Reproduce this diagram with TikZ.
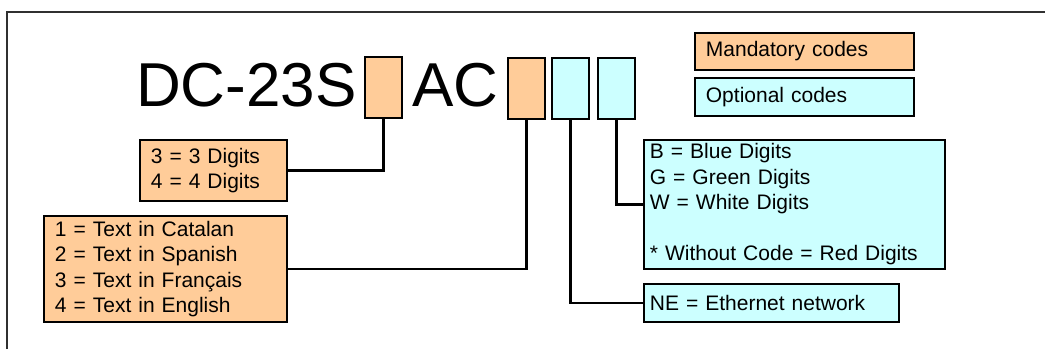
\documentclass[tikz,border=0pt]{standalone}
\usepackage{fontspec}
\setmainfont{Liberation Sans}
\usepackage{xcolor}
\definecolor{mandorange}{HTML}{FFCC99}
\definecolor{optcyan}{HTML}{CCFFFF}
\definecolor{framegray}{HTML}{303030}

\tikzset{
    codebox/.style={draw=black, line width=1.8pt, inner sep=0, anchor=north west, minimum width=37, minimum height=61},
    infobox/.style={draw=black, line width=1.8pt, anchor=north west, align=left, inner ysep=0pt, font=\fontsize{21}{25.5}\selectfont},
    link/.style={line width=2.4pt}
}

\begin{document}
\begin{tikzpicture}[x=1pt, y=-1pt]
    \useasboundingbox (0,0) rectangle (1045,349);
    \draw[line width=1.6pt, framegray] (7,349) -- (7,12) -- (1045,12);

    % model code
    \node[anchor=base west, inner sep=0, font=\fontsize{62}{62}\selectfont] (model) at (136,106) {DC-23S};
    \node[anchor=base west, inner sep=0, font=\fontsize{62}{62}\selectfont] (series) at (412,106) {AC};
    \node[codebox, fill=mandorange] (digitcode) at (364,56) {};
    \node[codebox, fill=mandorange] (langcode) at (507,57) {};
    \node[codebox, fill=optcyan] (netcode) at (551,57) {};
    \node[codebox, fill=optcyan] (colorcode) at (597,57) {};

    % legend
    \node[infobox, fill=mandorange, inner xsep=11pt, text width=197pt, minimum width=219, minimum height=37] (mandatory) at (694,32) {Mandatory codes};
    \node[infobox, fill=optcyan, inner xsep=11pt, text width=197pt, minimum width=219, minimum height=38] (optional) at (694,77) {Optional codes};

    % option boxes
    \node[infobox, fill=mandorange, inner xsep=11pt, text width=125pt, minimum width=147, minimum height=61] (digits) at (139,139) {3 = 3 Digits\\4 = 4 Digits};
    \node[infobox, fill=mandorange, inner xsep=11pt, text width=221pt, minimum width=243, minimum height=106] (lang) at (43,215) {1 = Text in Catalan\\2 = Text in Spanish\\3 = Text in Français\\4 = Text in English};
    \node[infobox, fill=optcyan, inner xsep=6pt, text width=289pt, minimum width=301, minimum height=129] (colors) at (643,139) {B = Blue Digits\\G = Green Digits\\W = White Digits\\[25.5pt]* Without Code = Red Digits};
    \node[infobox, fill=optcyan, inner xsep=6pt, text width=243pt, minimum width=255, minimum height=38] (net) at (643,283) {NE = Ethernet network};

    % connectors
    \draw[link] (digitcode.south) |- (digits.east);
    \draw[link] (langcode.south) |- (lang.east);
    \draw[link] (netcode.south) |- (net.west);
    \draw[link] (colorcode.south) |- (colors.west);
\end{tikzpicture}
\end{document}
